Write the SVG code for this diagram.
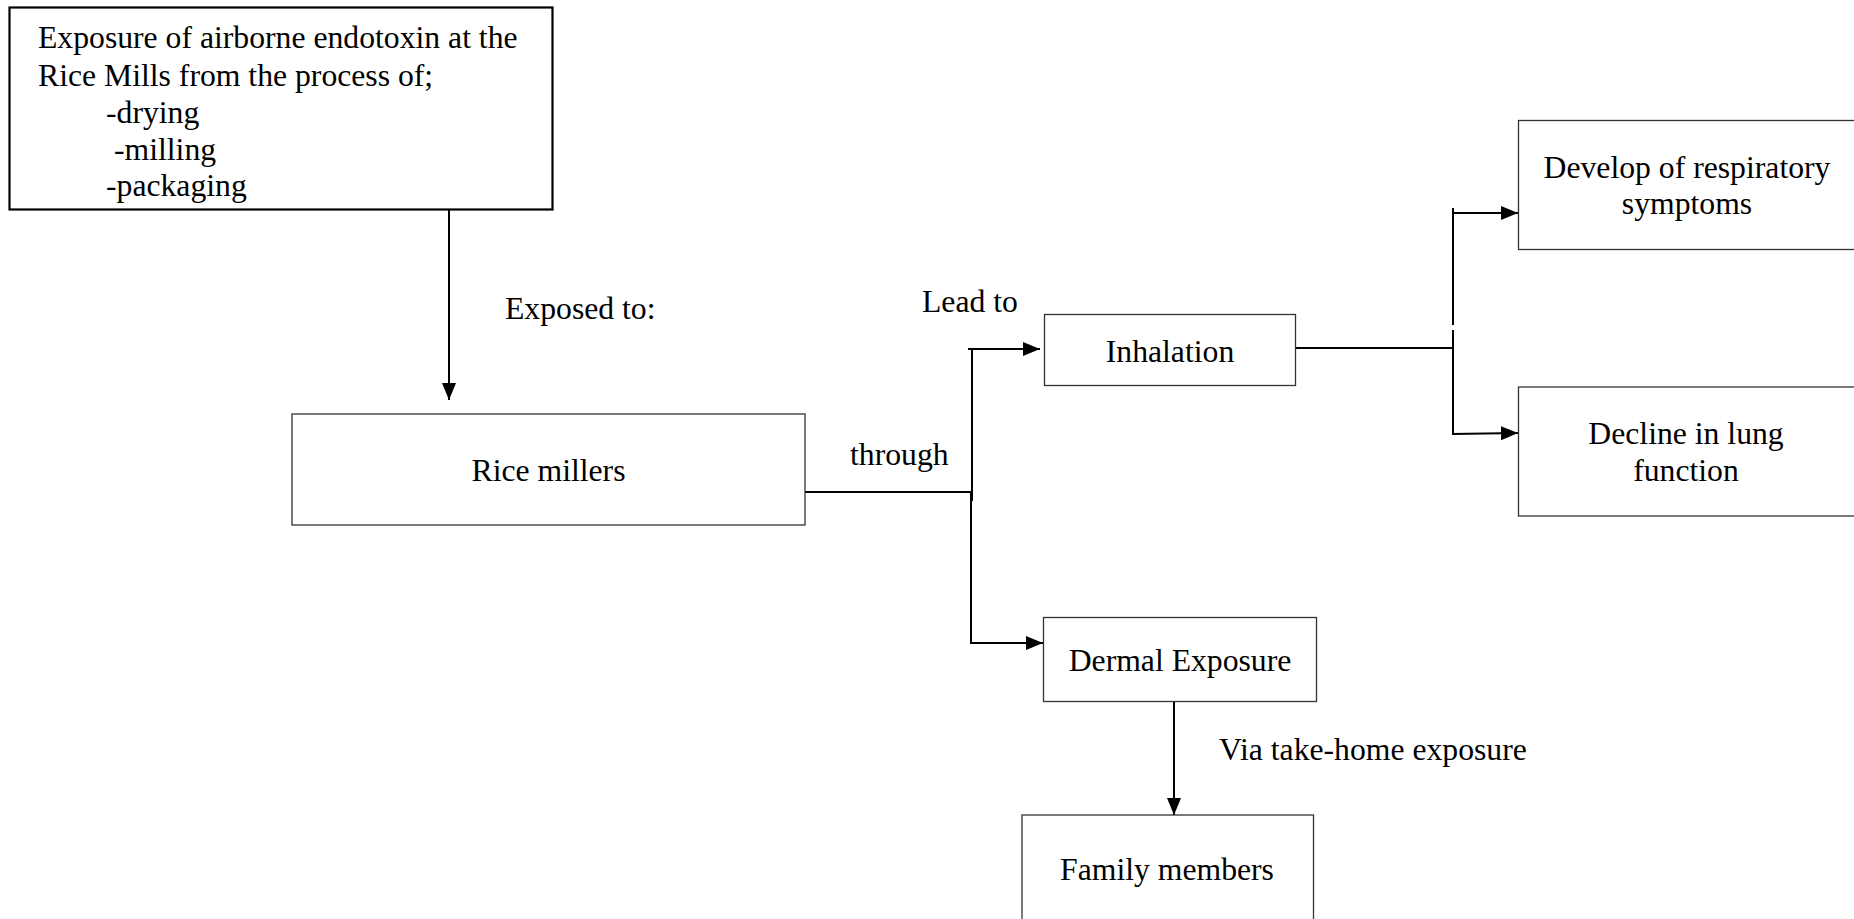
<svg xmlns="http://www.w3.org/2000/svg" width="1854" height="919" viewBox="0 0 1854 919">
<defs>
<style>
.box{fill:#fff;stroke:#333;stroke-width:1.3}
.boxb{fill:#fff;stroke:#000;stroke-width:2.2}
.t{font-family:"Liberation Serif","Times New Roman",serif;font-size:31.7px;fill:#000}
.c{text-anchor:middle}
.ln{fill:none;stroke:#000;stroke-width:2}
</style>
<marker id="ah" viewBox="0 0 17 14" refX="17" refY="7" markerWidth="17" markerHeight="14" markerUnits="userSpaceOnUse" orient="auto">
<path d="M0,0 L17,7 L0,14 Z" fill="#000"/>
</marker>
</defs>
<rect width="1854" height="919" fill="#fff"/>

<g id="connectors">
<line class="ln" x1="449" y1="210" x2="449" y2="400" marker-end="url(#ah)"/>
<line class="ln" x1="805" y1="492" x2="972" y2="492"/>
<line class="ln" x1="972" y1="349" x2="972" y2="501"/>
<line class="ln" x1="971" y1="492" x2="971" y2="643"/>
<line class="ln" x1="968" y1="349" x2="1040" y2="349" marker-end="url(#ah)"/>
<line class="ln" x1="970" y1="643" x2="1043" y2="643" marker-end="url(#ah)"/>
<line class="ln" x1="1296" y1="348" x2="1453" y2="348"/>
<line class="ln" x1="1453" y1="208" x2="1453" y2="325"/>
<line class="ln" x1="1453" y1="330" x2="1453" y2="434"/>
<line class="ln" x1="1452" y1="213" x2="1518" y2="213" marker-end="url(#ah)"/>
<line class="ln" x1="1452" y1="434" x2="1518" y2="433" marker-end="url(#ah)"/>
<line class="ln" x1="1174" y1="702" x2="1174" y2="815" marker-end="url(#ah)"/>
</g>

<g id="node-source">
<rect class="boxb" x="9.5" y="7.5" width="543" height="202"/>
<text class="t" x="38" y="48">Exposure of airborne endotoxin at the</text>
<text class="t" x="38" y="86">Rice Mills from the process of;</text>
<text class="t" x="106" y="123">-drying</text>
<text class="t" x="114" y="160">-milling</text>
<text class="t" x="106" y="196">-packaging</text>
</g>

<g id="label-exposed">
<text class="t" x="505" y="319">Exposed to:</text>
</g>

<g id="node-rice-millers">
<rect class="box" x="292" y="414" width="513" height="111"/>
<text class="t c" x="548.5" y="481">Rice millers</text>
</g>

<g id="label-through">
<text class="t" x="850" y="465">through</text>
</g>

<g id="label-lead">
<text class="t" x="922" y="312">Lead to</text>
</g>

<g id="node-inhalation">
<rect class="box" x="1044.5" y="314.5" width="251" height="71"/>
<text class="t c" x="1170" y="362">Inhalation</text>
</g>

<g id="node-dermal">
<rect class="box" x="1043.5" y="617.5" width="273" height="84"/>
<text class="t c" x="1180" y="671">Dermal Exposure</text>
</g>

<g id="label-via">
<text class="t" x="1219" y="760">Via take-home exposure</text>
</g>

<g id="node-family">
<rect class="box" x="1022" y="815" width="291.5" height="110"/>
<text class="t c" x="1167" y="880">Family members</text>
</g>

<g id="node-respiratory">
<rect class="box" x="1518.5" y="120.5" width="340" height="129"/>
<text class="t c" x="1687" y="178">Develop of respiratory</text>
<text class="t c" x="1687" y="214">symptoms</text>
</g>

<g id="node-lung">
<rect class="box" x="1518.5" y="387" width="340" height="129"/>
<text class="t c" x="1686" y="444">Decline in lung</text>
<text class="t c" x="1686" y="481">function</text>
</g>
</svg>
